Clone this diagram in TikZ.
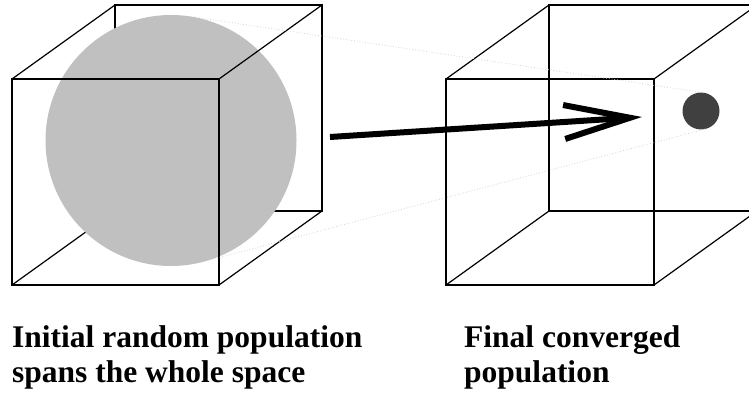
\documentclass[tikz,border=0pt]{standalone}
\usepackage{fontspec}
\setmainfont{Liberation Serif}
\usepackage{tikz}
\usetikzlibrary{arrows.meta,positioning,calc}
\definecolor{popgray}{HTML}{C0C0C0}
\definecolor{bestgray}{HTML}{404040}
\definecolor{tanggray}{HTML}{D4D4D4}

\begin{document}
\begin{tikzpicture}[x=1pt, y=1pt,
    wire/.style={draw=black, line width=1.2pt},
    tang/.style={draw=tanggray, line width=0.8pt, dotted},
    blob/.style={circle, draw=none, inner sep=0pt, outer sep=0pt},
    arr/.style={-{Straight Barb[length=66pt, width=34pt]}, line width=6pt},
    lbl/.style={anchor=base west, inner sep=0pt, align=left,
                font=\fontsize{31.5}{35}\selectfont\bfseries}]
    \useasboundingbox (0,0) rectangle (749,404);
    \clip (0,0) rectangle (749,404);
    % left cube, back part first
    \coordinate (a1) at (12,119);  \coordinate (a2) at (219,119);
    \coordinate (a3) at (219,325); \coordinate (a4) at (12,325);
    \coordinate (b1) at (115,193); \coordinate (b2) at (322,193);
    \coordinate (b3) at (322,399); \coordinate (b4) at (115,399);
    \draw[wire] (b1) -- (b2) -- (b3) -- (b4) -- cycle;
    \draw[wire] (a1) -- (b1);
    \node[blob, fill=popgray, minimum size=251pt] (pop) at (171,263.5) {};
    \draw[wire] (a1) -- (a2) -- (a3) -- (a4) -- cycle;
    \draw[wire] (a2) -- (b2) (a3) -- (b3) (a4) -- (b4);
    % right cube
    \coordinate (c1) at (446,119); \coordinate (c2) at (654,119);
    \coordinate (c3) at (654,325); \coordinate (c4) at (446,325);
    \coordinate (d1) at (549,193); \coordinate (d2) at (757,193);
    \coordinate (d3) at (757,399); \coordinate (d4) at (549,399);
    \draw[wire] (d1) -- (d2) -- (d3) -- (d4) -- cycle;
    \draw[wire] (c1) -- (c2) -- (c3) -- (c4) -- cycle;
    \draw[wire] (c1) -- (d1) (c2) -- (d2) (c3) -- (d3) (c4) -- (d4);
    \node[blob, fill=bestgray, minimum size=37pt] (best) at (701,293) {};
    % cone between the two populations
    \draw[tang] (pop.81.56) -- (best.81.56);
    \draw[tang] (pop.-75.18) -- (best.-75.18);
    \coordinate (from) at (330,267);
    \coordinate (to) at (642,287);
    \draw[arr] (from) -- (to);
    \node[lbl] (initlbl) at (12,21) {Initial random population\\spans the whole space};
    \node[lbl] (finallbl) at (464,21) {Final converged\\population};
\end{tikzpicture}
\end{document}
